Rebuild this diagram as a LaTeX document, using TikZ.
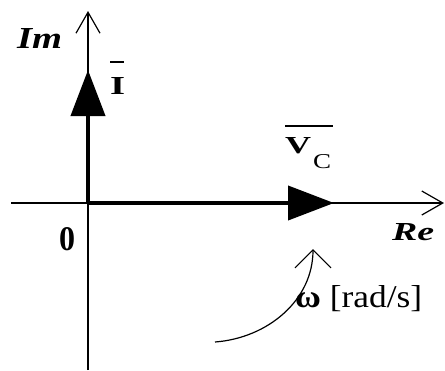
\documentclass[tikz,border=0pt]{standalone}
\usepackage{fontspec}
\setmainfont{Liberation Serif}
\usetikzlibrary{arrows.meta}
\begin{document}
\begin{tikzpicture}[x=1pt,y=-1pt,
  axis/.style={line width=1.3pt,-{Straight Barb[length=21pt,width=24pt,line width=1.2pt]}},
  vec/.style={line width=4pt,-{Triangle[length=46pt,width=34pt]}},
  rot/.style={line width=1.2pt,-{Straight Barb[length=18pt,width=36pt,line width=1.2pt]}},
  lbl/.style={inner sep=0pt,anchor=base west,font=\fontsize{24}{28}\selectfont}]
\useasboundingbox (0,0) rectangle (445,370);
\coordinate (O) at (88,203);
\coordinate (xl) at (11,203);
\coordinate (xr) at (444,203);
\coordinate (yb) at (88,370);
\coordinate (yt) at (88,11);
\coordinate (Itip) at (88,70);
\coordinate (Vtip) at (334,203);
\coordinate (ws) at (215,342);
\coordinate (wt) at (313,249);
\draw[axis] (xl) -- (xr);
\draw[axis] (yb) -- (yt);
\draw[vec] (O) -- (Itip);
\draw[vec] (O) -- (Vtip);
\draw[rot] (ws) .. controls (268,338) and (313,300) .. (wt);
\node[lbl] (im) at (17,48) {\resizebox{45pt}{20pt}{\textbf{\textit{Im}}}};
\node[lbl] (ilab) at (110,94) {\makebox[0pt][l]{\raisebox{31pt}{\rule{14pt}{1.8pt}}}\resizebox{15pt}{17pt}{\textbf{I}}};
\node[lbl] (vc) at (285,153) {\makebox[0pt][l]{\raisebox{26pt}{\rule{48pt}{1.8pt}}}\resizebox{26pt}{16pt}{\textbf{V}}\hspace{2pt}\raisebox{-15pt}{\resizebox{18pt}{14pt}{C}}};
\node[lbl] (re) at (392,240) {\resizebox{42pt}{17pt}{\textbf{\textit{Re}}}};
\node[lbl] (zero) at (59,250) {\resizebox{16pt}{23pt}{\textbf{0}}};
\node[lbl] (w) at (295,307) {\resizebox{127pt}{22pt}{\textbf{ω} [rad/s]}};
\end{tikzpicture}
\end{document}
